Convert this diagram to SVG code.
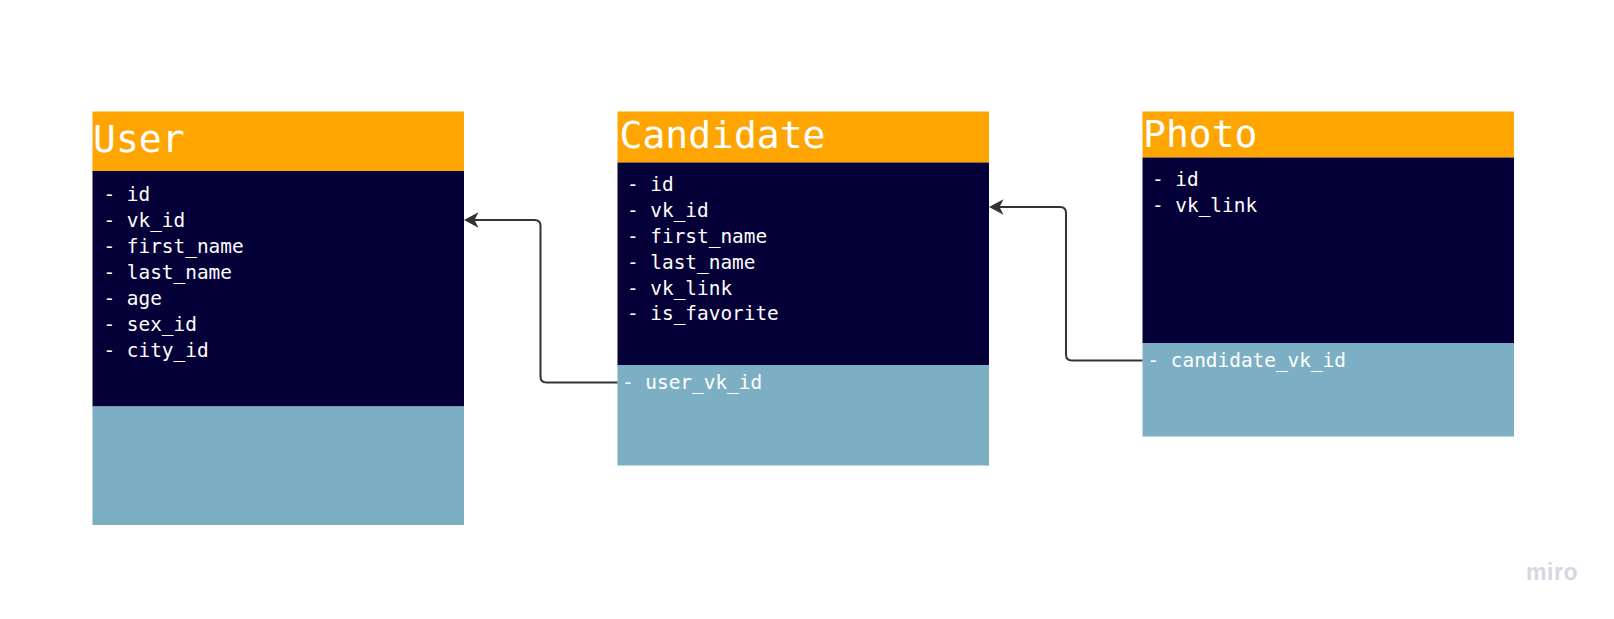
<svg xmlns="http://www.w3.org/2000/svg" width="1614" height="619" viewBox="0 0 1614 619">
  <style>
    .hdr { fill: #FFA502; }
    .body { fill: #050038; }
    .fk { fill: #7DAFC4; }
    .title { font-family: "DejaVu Sans Mono", "Liberation Mono", monospace; font-size: 38px; fill: #FFFFFF; }
    .field { font-family: "DejaVu Sans Mono", "Liberation Mono", monospace; font-size: 19.4px; fill: #FFFFFF; }
    .conn { fill: none; stroke: #333333; stroke-width: 2; }
    .wm { font-family: "Liberation Sans", Arial, sans-serif; font-size: 23px; font-weight: bold; letter-spacing: 0.6px; fill: #D6D6E2; }
  </style>
  <defs>
    <marker id="arrow" markerUnits="userSpaceOnUse" viewBox="-14 -10 20 20" refX="0" refY="0" markerWidth="20" markerHeight="20" orient="auto">
      <path d="M3.5,0 L-11,-7.8 L-7,0 L-11,7.8 Z" fill="#333333"/>
    </marker>
  </defs>
  <rect width="1614" height="619" fill="#FFFFFF"/>

  <g id="user">
    <rect class="hdr" x="92.5" y="111.5" width="371.5" height="59.5"/>
    <rect class="body" x="92.5" y="171" width="371.5" height="235.5"/>
    <rect class="fk" x="92.5" y="406.5" width="371.5" height="118.5"/>
    <text class="title" x="93" y="151.5">User</text>
    <text class="field" x="103.5" y="200.5">- id</text>
    <text class="field" x="103.5" y="226.5">- vk_id</text>
    <text class="field" x="103.5" y="252.5">- first_name</text>
    <text class="field" x="103.5" y="278.5">- last_name</text>
    <text class="field" x="103.5" y="304.5">- age</text>
    <text class="field" x="103.5" y="330.5">- sex_id</text>
    <text class="field" x="103.5" y="356.5">- city_id</text>
  </g>

  <g id="candidate">
    <rect class="hdr" x="617.5" y="111.5" width="371.5" height="51"/>
    <rect class="body" x="617.5" y="162.5" width="371.5" height="202.5"/>
    <rect class="fk" x="617.5" y="365" width="371.5" height="100.5"/>
    <text class="title" x="619.5" y="147.5">Candidate</text>
    <text class="field" x="627" y="190.5">- id</text>
    <text class="field" x="627" y="216.5">- vk_id</text>
    <text class="field" x="627" y="242.5">- first_name</text>
    <text class="field" x="627" y="268.5">- last_name</text>
    <text class="field" x="627" y="294.5">- vk_link</text>
    <text class="field" x="627" y="320">- is_favorite</text>
    <text class="field" x="622" y="388.5">- user_vk_id</text>
  </g>

  <g id="photo">
    <rect class="hdr" x="1142.5" y="111.5" width="371.5" height="46"/>
    <rect class="body" x="1142.5" y="157.5" width="371.5" height="185.5"/>
    <rect class="fk" x="1142.5" y="343" width="371.5" height="93.5"/>
    <text class="title" x="1143" y="146.5">Photo</text>
    <text class="field" x="1152" y="186">- id</text>
    <text class="field" x="1152" y="211.5">- vk_link</text>
    <text class="field" x="1147.5" y="366.5">- candidate_vk_id</text>
  </g>

  <g id="connectors">
    <path class="conn" marker-end="url(#arrow)" d="M617.5,382.5 H546.5 Q540.5,382.5 540.5,376.5 V226 Q540.5,220 534.5,220 H467.5"/>
    <path class="conn" marker-end="url(#arrow)" d="M1142.5,360.5 H1072 Q1066,360.5 1066,354.5 V213 Q1066,207 1060,207 H992.5"/>
  </g>

  <text class="wm" x="1526" y="580">miro</text>
</svg>
